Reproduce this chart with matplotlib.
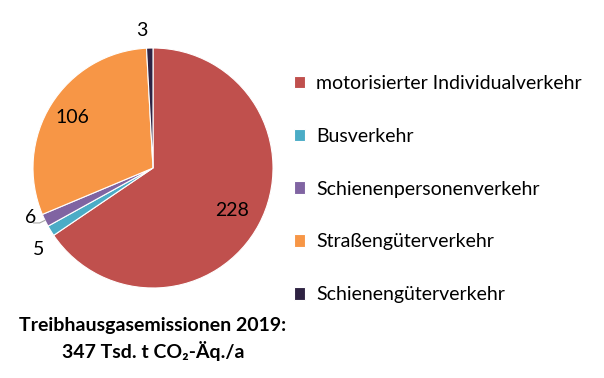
import numpy as np
import matplotlib
matplotlib.use("Agg")
import matplotlib.pyplot as plt

categories = ["motorisierter Individualverkehr", "Busverkehr", "Schienenpersonenverkehr",
              "Straßengüterverkehr", "Schienengüterverkehr"]
values = [228, 5, 6, 106, 3]
colors = ["#C0504D", "#4BACC6", "#8064A2", "#F79646", "#2F2343"]
# label placement: (radial distance, angle shift in degrees)
label_pos = [(0.75, 0), (1.17, 4), (1.10, -4), (0.79, 0), (1.15, 3)]
title = "Treibhausgasemissionen 2019:\n347 Tsd. t CO₂-Äq./a"

plt.rcParams["font.family"] = ["Lato", "DejaVu Sans"]

W, H = 604, 378
fig = plt.figure(figsize=(W / 100, H / 100), dpi=100)
ax = fig.add_axes([33 / W, (H - 288) / H, 240 / W, 240 / H])
wedges, _ = ax.pie(values, colors=colors, startangle=90, counterclock=False,
                   wedgeprops=dict(edgecolor="white", linewidth=0.8))
ax.set_xlim(-1, 1)
ax.set_ylim(-1, 1)
ax.set_aspect("equal")

for w, v, (d, shift) in zip(wedges, values, label_pos):
    mid = np.deg2rad((w.theta1 + w.theta2) / 2 + shift)
    ax.text(d * np.cos(mid), d * np.sin(mid), str(v), ha="center", va="center",
            fontsize=14, color="black")

# small leader line for the "6" label
w = wedges[2]
mid = np.deg2rad((w.theta1 + w.theta2) / 2)
ax.plot([1.0 * np.cos(mid), 1.05 * np.cos(mid), 1.05 * np.cos(mid) - 0.05],
        [1.0 * np.sin(mid), 1.05 * np.sin(mid), 1.05 * np.sin(mid)],
        color="#A6A6A6", lw=0.8)

ax.legend(wedges, categories, loc="center left", bbox_to_anchor=(276 / W, 189 / H),
          bbox_transform=fig.transFigure, frameon=False, fontsize=14,
          handlelength=0.6, handleheight=0.6, handletextpad=0.55, labelspacing=1.85)

fig.text(153 / W, (H - 339) / H, title, ha="center", va="center",
         fontsize=14, fontweight="bold", linespacing=1.45)

fig.savefig("out.png", dpi=100)
